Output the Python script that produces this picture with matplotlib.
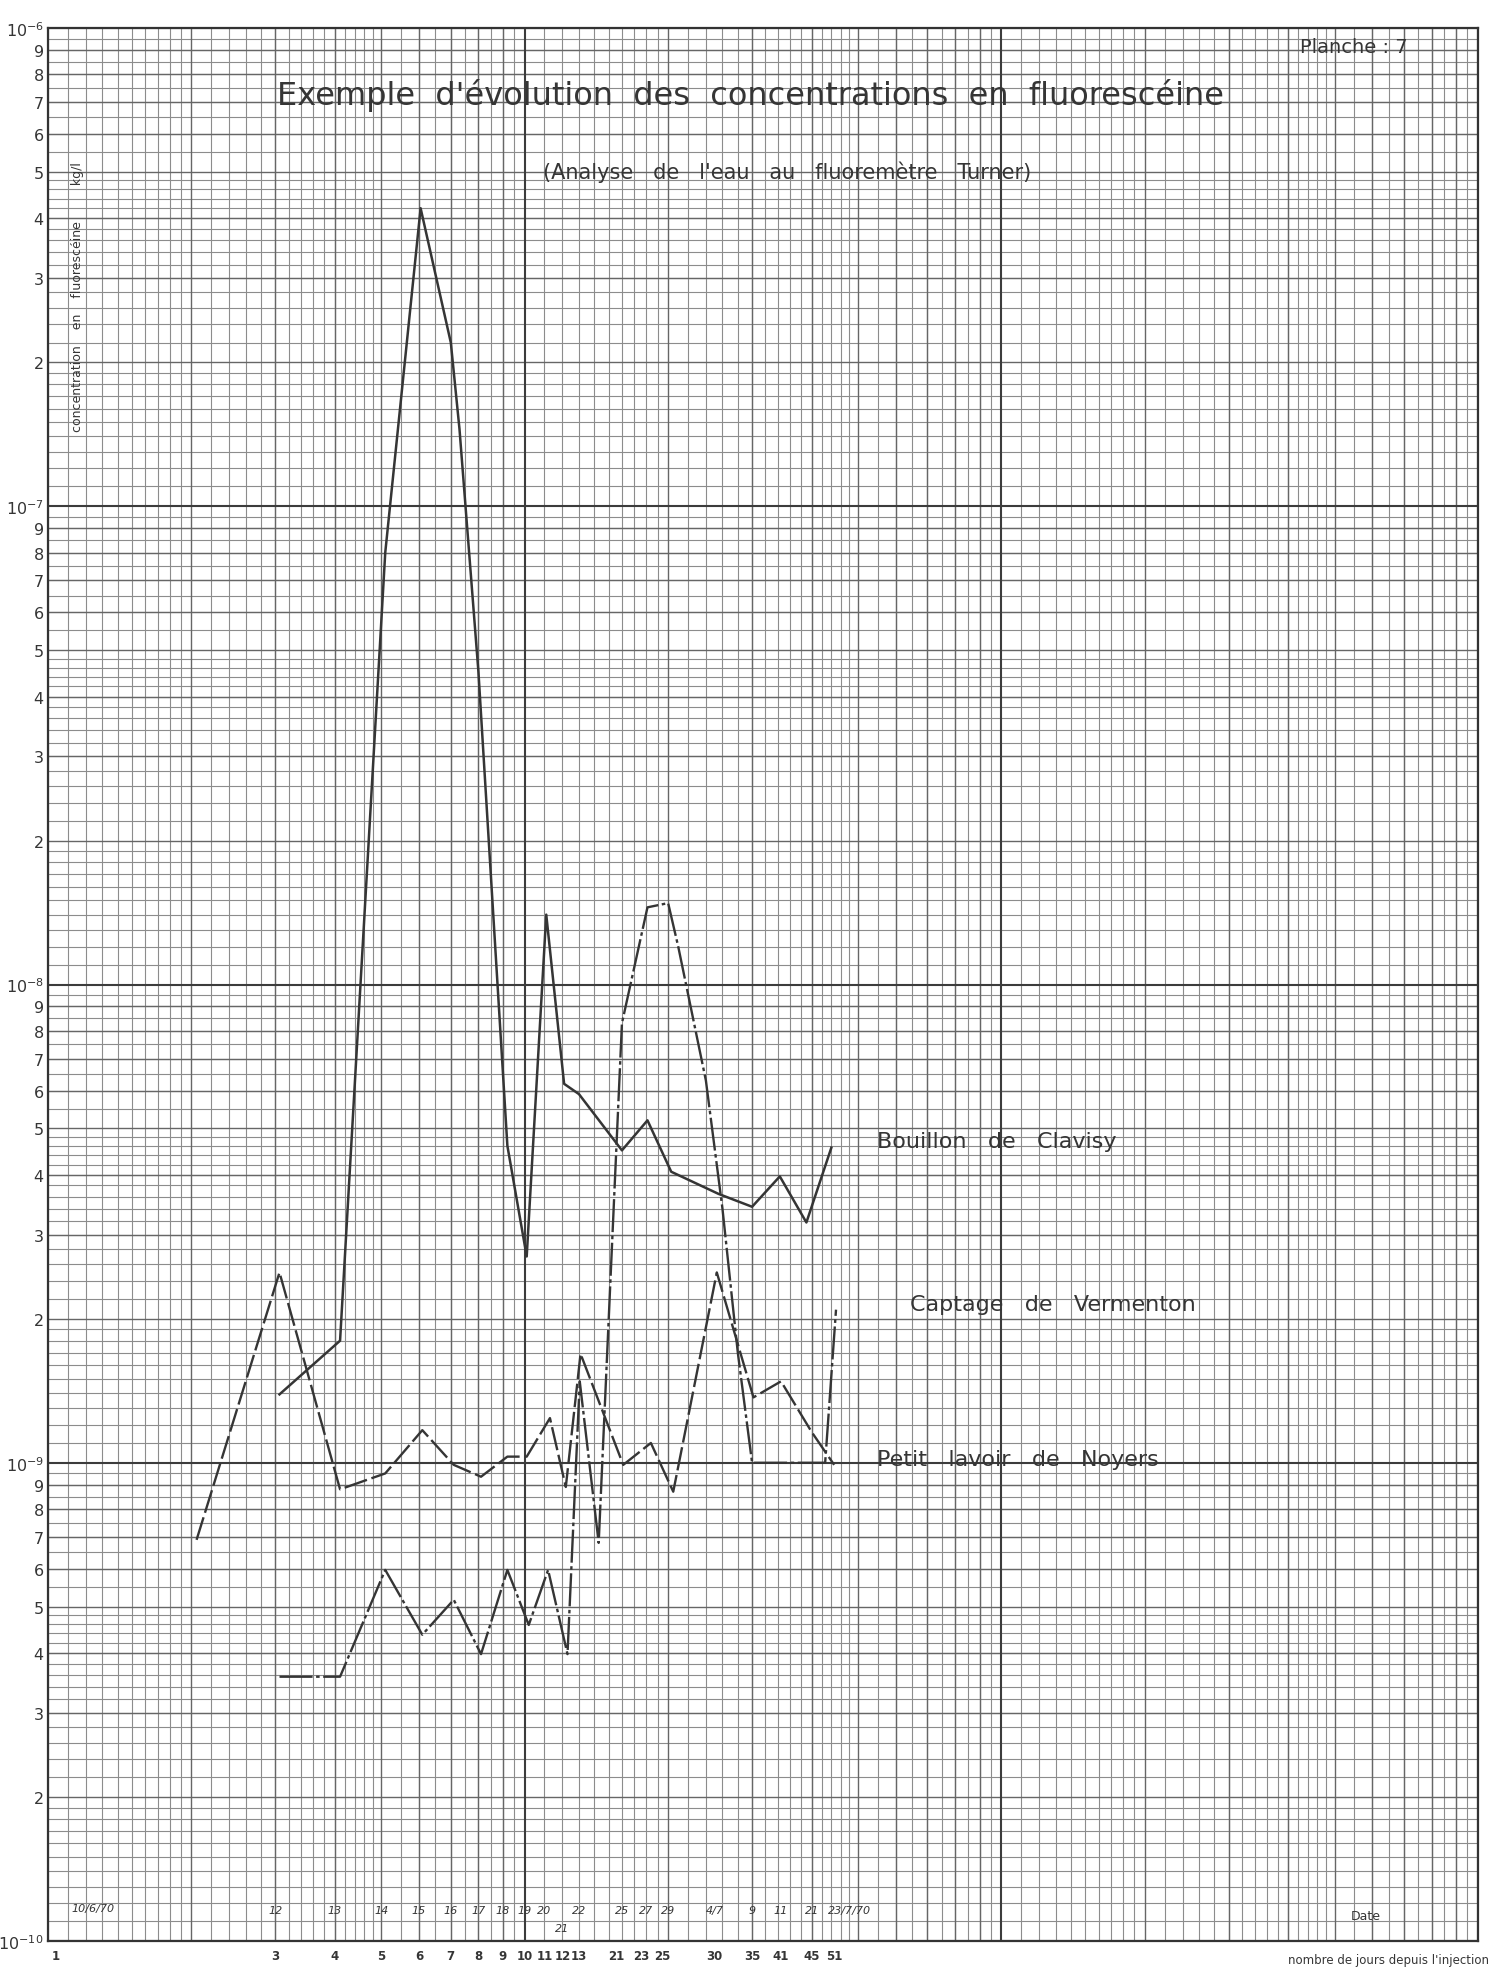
import numpy as np
import matplotlib
matplotlib.use("Agg")
import matplotlib.pyplot as plt

# ---- data ----
# x = days since injection (position on the log axis), y = concentration kg/l
days_bouillon = [3.06, 4.1, 5.1, 6.05, 7.0, 7.3, 8.0, 9.2, 10.1, 11.1, 12.1, 13.0,
                 16.0, 18.1, 20.3, 25.5, 30.0, 34.3, 39.0, 44.0]
conc_bouillon = [1.39e-9, 1.8e-9, 8.0e-8, 4.2e-7, 2.2e-7, 1.45e-7, 4.5e-8, 4.6e-9,
                 2.7e-9, 1.4e-8, 6.2e-9, 5.9e-9, 4.5e-9, 5.2e-9, 4.06e-9, 3.65e-9,
                 3.43e-9, 3.97e-9, 3.18e-9, 4.56e-9]

days_vermenton = [3.06, 4.1, 5.1, 6.1, 7.1, 8.1, 9.2, 10.2, 11.2, 12.3, 13.05, 14.3,
                  16.0, 18.1, 20.0, 21.0, 24.0, 26.0, 28.0, 30.0, 34.5, 42.7, 45.0]
conc_vermenton = [3.57e-10, 3.57e-10, 5.97e-10, 4.37e-10, 5.17e-10, 3.98e-10, 5.97e-10,
                  4.58e-10, 5.97e-10, 3.98e-10, 1.48e-9, 6.8e-10, 8.3e-9, 1.45e-8,
                  1.48e-8, 1.2e-8, 6.3e-9, 3.4e-9, 1.7e-9, 1.0e-9, 1.0e-9, 1.0e-9, 2.09e-9]

days_noyers = [2.05, 3.06, 4.1, 5.1, 6.1, 7.1, 8.1, 9.2, 10.1, 11.3, 12.2, 13.1,
               16.1, 18.4, 20.5, 25.3, 30.2, 34.5, 40.0, 44.6]
conc_noyers = [6.9e-10, 2.5e-9, 8.8e-10, 9.5e-10, 1.17e-9, 9.9e-10, 9.35e-10, 1.03e-9,
               1.03e-9, 1.24e-9, 8.9e-10, 1.69e-9, 9.9e-10, 1.1e-9, 8.7e-10, 2.5e-9,
               1.37e-9, 1.48e-9, 1.16e-9, 9.9e-10]

# bottom axis: number of days (as written) and the dates written above it
day_tick_pos = [1.04, 3, 4, 5, 6, 7, 8, 9, 10, 11, 12, 13, 15.6, 17.6, 19.4, 25, 30, 34.5, 40, 44.6]
day_tick_lab = ["1", "3", "4", "5", "6", "7", "8", "9", "10", "11", "12", "13",
                "21", "23", "25", "30", "35", "41", "45", "51"]
date_pos = [3, 4, 5, 6, 7, 8, 9, 10, 11, 13, 16, 18, 20, 25, 30, 34.5, 40]
date_lab = ["12", "13", "14", "15", "16", "17", "18", "19", "20", "22",
            "25", "27", "29", "4/7", "9", "11", "21"]
date_first = (1.12, "10/6/70")
date_last = (43.3, "23/7/70")
date21_pos = 12

y_exps = [-10, -9, -8, -7, -6]

ink = "#353535"

fig = plt.figure(figsize=(14.94, 19.74), dpi=100)
ax = fig.add_axes([0.0321, 0.0162, 0.9572, 0.9691])
ax.set_xscale("log")
ax.set_yscale("log")
ax.set_xlim(1, 1000)
ax.set_ylim(1e-10, 1e-6)


# graph paper rulings
def rulings(e0, e1):
    fine, mid, major = [], [], []
    for e in range(e0, e1):
        b = 10.0 ** e
        major.append(b)
        mid += [k * b for k in range(2, 10)]
        fine += list(np.arange(1.1, 2.0, 0.1) * b) + list(np.arange(2.2, 5.0, 0.2) * b) \
            + list(np.arange(5.5, 10, 0.5) * b)
    major.append(10.0 ** e1)
    return fine, mid, major


xf, xm, xM = rulings(0, 3)
yf, ym, yM = rulings(-10, -6)
ax.vlines(xf, 1e-10, 1e-6, color="#8c8c8c", lw=0.8, zorder=1)
ax.hlines(yf, 1, 1000, color="#8c8c8c", lw=0.8, zorder=1)
ax.vlines(xm, 1e-10, 1e-6, color="#666666", lw=1.0, zorder=1)
ax.hlines(ym, 1, 1000, color="#666666", lw=1.0, zorder=1)
ax.vlines(xM, 1e-10, 1e-6, color="#3c3c3c", lw=1.5, zorder=1)
ax.hlines(yM, 1, 1000, color="#3c3c3c", lw=1.5, zorder=1)

# curves
ax.plot(days_bouillon, conc_bouillon, color=ink, lw=1.8, zorder=3)
ax.plot(days_vermenton, conc_vermenton, color=ink, lw=1.7, zorder=3,
        dashes=(14, 1.5, 1.5, 1.5))
ax.plot(days_noyers, conc_noyers, color=ink, lw=1.7, zorder=3, dashes=(10, 2))

# y labels: 10^n and the 2..9 subdivisions
yt, yl = [], []
for e in y_exps:
    yt.append(10.0 ** e)
    yl.append("10$^{%d}$" % e)
    if e < -6:
        for k in range(2, 10):
            yt.append(k * 10.0 ** e)
            yl.append(str(k))
ax.set_yticks(yt)
ax.set_yticklabels(yl, fontsize=11.5, color=ink)
ax.set_yticks([], minor=True)

ax.set_xticks(day_tick_pos)
ax.set_xticklabels(day_tick_lab, fontsize=8.5, fontweight="bold", color=ink)
ax.set_xticks([], minor=True)
ax.tick_params(length=0, pad=3)
ax.tick_params(axis="x", pad=6)

for s in ax.spines.values():
    s.set_color("#333333")
    s.set_linewidth(1.6)

for p, t in zip(date_pos, date_lab):
    ax.text(p, 1.16e-10, t, fontsize=8, style="italic", color=ink, ha="center", va="center")
ax.text(date_first[0], 1.17e-10, date_first[1], fontsize=8, style="italic", color=ink,
        ha="left", va="center")
ax.text(date_last[0], 1.16e-10, date_last[1], fontsize=8, style="italic", color=ink,
        ha="left", va="center")
ax.text(date21_pos, 1.065e-10, "21", fontsize=8, style="italic", color=ink,
        ha="center", va="center")

tx = dict(transform=ax.transAxes, color=ink)
ax.text(0.491, 0.9655, "Exemple  d'évolution  des  concentrations  en  fluorescéine",
        fontsize=23, ha="center", va="center", **tx)
ax.text(0.517, 0.9252, "(Analyse   de   l'eau   au   fluoremètre   Turner)",
        fontsize=15, ha="center", va="center", **tx)
ax.text(0.913, 0.9906, "Planche : 7", fontsize=14, ha="center", va="center", **tx)
ax.text(0.021, 0.86, "concentration    en    fluorescéine         kg/l", fontsize=9,
        rotation=90, ha="center", va="center", **tx)

ax.text(0.5797, 0.4182, "Bouillon   de   Clavisy", fontsize=16, ha="left", va="center", **tx)
ax.text(0.6028, 0.333, "Captage   de   Vermenton", fontsize=16, ha="left", va="center", **tx)
ax.text(0.5797, 0.252, "Petit   lavoir   de   Noyers", fontsize=16, ha="left", va="center", **tx)

ax.text(0.9217, 0.0131, "Date", fontsize=9, ha="center", va="center", **tx)
ax.text(1.008, -0.0094, "nombre de jours depuis l'injection", fontsize=8.5,
        ha="right", va="center", clip_on=False, **tx)

fig.savefig("out.png", dpi=100)
